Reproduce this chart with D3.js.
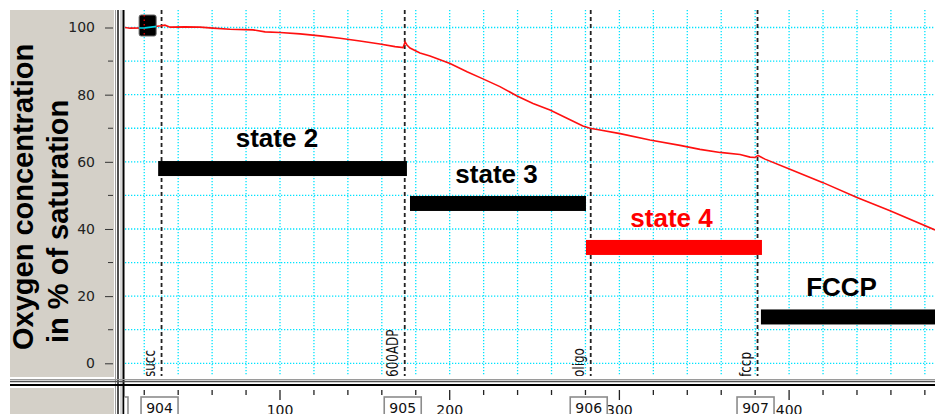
<!DOCTYPE html>
<html><head><meta charset="utf-8">
<script src="https://cdn.jsdelivr.net/npm/d3@7"></script>
<style>html,body{margin:0;padding:0;background:#fff;overflow:hidden}</style>
</head><body>
<svg id="c" width="935" height="414"></svg>
<script>
// ---------- data ----------
const traceTime = [8.7,11.6,20.4,29.9,32.2,35.2,44.0,52.9,60.5,70.5,84.1,91.2,100,111.8,123.6,135.4,147.1,158.9,167.8,172.5,173.7,174.8,176.6,182.5,188.4,200.2,210.2,219.6,229.6,239.7,249.1,259.1,269.1,278.5,282.7,288.6,300.4,318.0,335.7,347.5,359.3,371.1,377.0,379.9,381.7,385.8,400.5,420.0,440.0,459.5,486.0];
const traceO2   = [100.0,99.8,99.9,100.5,100.7,100.1,100.2,100.1,99.8,99.5,99.3,98.7,98.5,98.1,97.5,96.8,96.0,95.1,94.3,94.0,95.7,94.8,93.9,92.4,91.5,89.3,86.8,84.7,82.4,79.6,77.4,75.4,73.0,70.7,70.0,69.5,68.4,66.5,64.9,63.7,62.8,62.2,61.4,61.3,61.9,60.8,57.8,53.8,49.4,45.4,39.7];

const eventIds   = ["903","904","905","906","907"];
const eventNames = ["","succ","600ADP","oligo","fccp"];
const eventTimes = [0.7,30.2,173.5,283.1,381.4];

const stateNames  = ["state 2","state 3","state 4","FCCP"];
const stateStart  = [28.2,176.6,280.3,383.4];
const stateEnd    = [174.8,280.3,384.0,490];
const stateLevel  = [58.0,47.6,34.5,13.8];
const stateLabelT = [98.2,227.6,330.7,430.9];
const stateLabelV = [64.4,53.6,40.5,20.0];
const stateColors = ["#000","#000","#ff0000","#000"];

const yTickValues = [0,20,40,60,80,100];
const xLabelValues = [100,200,300,400];
const cursorTime = 22;

const yTitleLines = ["Oxygen concentration","in % of saturation"];

// ---------- layout ----------
const svg = d3.select("#c");
const plotL = 125, plotR = 935, plotT = 10, plotB = 376;
const x = d3.scaleLinear().domain([0,400]).range([110.3,789.1]);
const y = d3.scaleLinear().domain([0,100]).range([363.3,27.5]);
const gray = "#d4d0c8";

// panels
svg.append("rect").attr("x",10).attr("y",10).attr("width",104).attr("height",367).attr("fill",gray);
svg.append("rect").attr("x",10).attr("y",388).attr("width",104).attr("height",30).attr("fill",gray);

// frame lines
const frame = svg.append("g");
frame.append("line").attr("x1",115.5).attr("x2",115.5).attr("y1",10).attr("y2",414).attr("stroke","#9a9a9a");
frame.append("line").attr("x1",118).attr("x2",118).attr("y1",10).attr("y2",414).attr("stroke","#505050").attr("stroke-width",2);
frame.append("line").attr("x1",121).attr("x2",121).attr("y1",10).attr("y2",414).attr("stroke","#b0b0b0");
frame.append("line").attr("x1",123.5).attr("x2",123.5).attr("y1",10).attr("y2",414).attr("stroke","#000").attr("stroke-width",2);
frame.append("line").attr("x1",10).attr("x2",935).attr("y1",379.5).attr("y2",379.5).attr("stroke","#9a9a9a");
frame.append("line").attr("x1",10).attr("x2",935).attr("y1",381.5).attr("y2",381.5).attr("stroke","#505050").attr("stroke-width",1.5);
frame.append("line").attr("x1",10).attr("x2",935).attr("y1",385).attr("y2",385).attr("stroke","#000").attr("stroke-width",2);

// clip
const defs = svg.append("defs");
defs.append("clipPath").attr("id","pc").append("rect").attr("x",plotL).attr("y",plotT).attr("width",plotR-plotL).attr("height",plotB-plotT);
defs.append("clipPath").attr("id","ac").append("rect").attr("x",124.5).attr("y",386).attr("width",plotR-124.5).attr("height",30);

const plot = svg.append("g").attr("clip-path","url(#pc)");

// grid
const gridCol = "#00e4ff";
const vGrid = d3.range(20,500,20);
plot.selectAll(".vg").data(vGrid).join("line")
  .attr("x1",d=>x(d)).attr("x2",d=>x(d)).attr("y1",plotT).attr("y2",plotB)
  .attr("stroke",gridCol).attr("stroke-width",1.3).attr("stroke-dasharray","1.3,1.7");
const hGrid = d3.range(0,101,10);
plot.selectAll(".hg").data(hGrid).join("line")
  .attr("x1",plotL).attr("x2",plotR).attr("y1",d=>y(d)).attr("y2",d=>y(d))
  .attr("stroke",gridCol).attr("stroke-width",1.3).attr("stroke-dasharray","1.3,1.7");

// event lines
const evIdx = d3.range(eventTimes.length);
plot.selectAll(".ev").data(evIdx.filter(i=>eventNames[i])).join("line")
  .attr("x1",i=>x(eventTimes[i])).attr("x2",i=>x(eventTimes[i]))
  .attr("y1",plotT).attr("y2",plotB)
  .attr("stroke","#222").attr("stroke-width",1.8).attr("stroke-dasharray","4,3");
plot.selectAll(".evl").data(evIdx.filter(i=>eventNames[i])).join("text")
  .attr("transform",i=>`translate(${x(eventTimes[i])-7},377) rotate(-90) scale(1,1.25)`)
  .attr("font-family","DejaVu Sans").attr("font-size",12).attr("fill","#111")
  .text(i=>eventNames[i]);

// state bars
const sIdx = d3.range(stateNames.length);
plot.selectAll(".sb").data(sIdx).join("rect")
  .attr("x",i=>x(stateStart[i])).attr("width",i=>x(stateEnd[i])-x(stateStart[i]))
  .attr("y",i=>y(stateLevel[i])-7.5).attr("height",15)
  .attr("fill",i=>stateColors[i]);
plot.selectAll(".sl").data(sIdx).join("text")
  .attr("x",i=>x(stateLabelT[i])).attr("y",i=>y(stateLabelV[i]))
  .attr("text-anchor","middle").attr("font-family","Liberation Sans, Arial, sans-serif")
  .attr("font-weight","bold").attr("font-size",26).attr("fill",i=>stateColors[i])
  .text(i=>stateNames[i]);

// trace
const pts = traceTime.map((t,i)=>[t,traceO2[i]]);
const line = d3.line().x(d=>x(d[0])).y(d=>y(d[1]));
plot.append("path").attr("d",line(pts)).attr("fill","none").attr("stroke","#ff1010").attr("stroke-width",1.6);

// cursor marker
const cx = x(cursorTime);
defs.append("clipPath").attr("id","cc").append("rect").attr("x",cx-8.5).attr("y",15).attr("width",17).attr("height",21).attr("rx",2);
plot.append("rect").attr("x",cx-8.5).attr("y",15).attr("width",17).attr("height",21).attr("rx",2)
  .attr("fill","#000").attr("stroke","#666").attr("stroke-width",1);
const cg = plot.append("g").attr("clip-path","url(#cc)");
cg.append("line").attr("x1",x(20)).attr("x2",x(20)).attr("y1",15).attr("y2",36)
  .attr("stroke","#e00").attr("stroke-width",1.3).attr("stroke-dasharray","1.5,3");
cg.append("path").attr("d",line(pts)).attr("fill","none").attr("stroke","#00d8e8").attr("stroke-width",1.6);

// y axis
const yAxis = d3.axisLeft(y).tickValues(yTickValues).tickSize(8).tickPadding(10).tickSizeOuter(0);
const yg = svg.append("g").attr("transform","translate(113,0)").call(yAxis);
yg.select(".domain").remove();
yg.selectAll(".tick line").attr("stroke","#333");
yg.selectAll(".tick text").attr("font-family","DejaVu Sans").attr("font-size",14).attr("fill","#222");
const yMinor = d3.range(10,100,20);
svg.selectAll(".ym").data(yMinor).join("line")
  .attr("x1",108).attr("x2",113).attr("y1",d=>y(d)).attr("y2",d=>y(d)).attr("stroke","#333");

// y title
svg.selectAll(".yt").data(yTitleLines).join("text")
  .attr("transform",(d,i)=>`translate(${i===0?33:68},${i===0?350:343}) rotate(-90)`)
  .attr("font-family","Liberation Sans, Arial, sans-serif").attr("font-weight","bold")
  .attr("font-size",29).attr("fill","#000").text(d=>d);

// x axis
const ax = svg.append("g").attr("clip-path","url(#ac)");
const xMinor = d3.range(0,500,20);
ax.selectAll(".xt").data(xMinor).join("line")
  .attr("x1",d=>x(d)).attr("x2",d=>x(d)).attr("y1",390)
  .attr("y2",d=>d%100===0?400:395).attr("stroke","#222").attr("stroke-width",1.3);
ax.selectAll(".xl").data(xLabelValues).join("text")
  .attr("x",d=>x(d)).attr("y",414.5).attr("text-anchor","middle")
  .attr("font-family","DejaVu Sans").attr("font-size",14).attr("fill","#111").text(d=>d);
const eb = ax.selectAll(".eb").data(evIdx).join("g")
  .attr("transform",i=>`translate(${x(eventTimes[i])-2},0)`);
eb.append("rect").attr("x",-18.5).attr("y",397).attr("width",37).attr("height",22)
  .attr("fill","#fff").attr("stroke","#8c8c8c").attr("stroke-width",1.6);
eb.append("text").attr("x",0).attr("y",412.5).attr("text-anchor","middle")
  .attr("font-family","DejaVu Sans").attr("font-size",14).attr("fill","#111").text(i=>eventIds[i]);
</script>
</body></html>
